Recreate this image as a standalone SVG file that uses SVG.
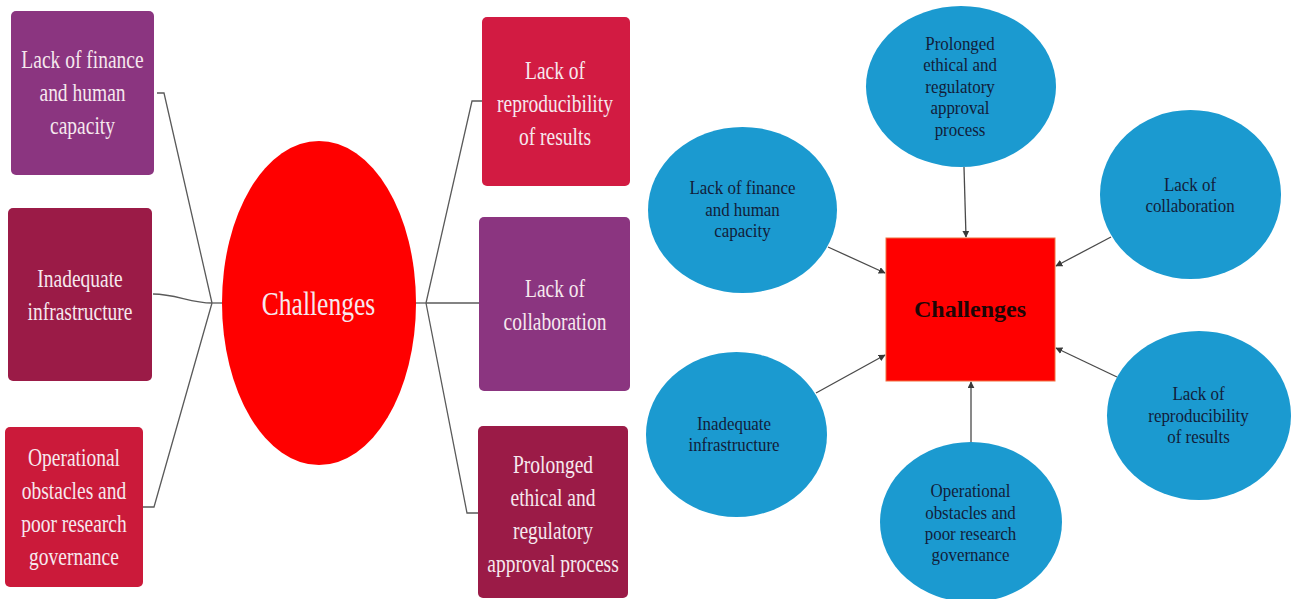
<svg xmlns="http://www.w3.org/2000/svg" width="1295" height="599" viewBox="0 0 1295 599">
<defs>
<style>
.bx{stroke:none}
.purple{fill:#8B3580}
.maroon{fill:#9B1B47}
.crimson{fill:#CB1A3A}
.lt{font-family:"Liberation Serif","Tinos","DejaVu Serif",serif;font-size:26px;fill:#F6E8EE;text-anchor:middle}
.ct{font-family:"Liberation Serif","Tinos","DejaVu Serif",serif;font-size:18px;fill:#121d3a;text-anchor:middle}
.circ{fill:#1B9AD0}
.ln{fill:none;stroke:#5a5a5a;stroke-width:1.3}
.ar{fill:none;stroke:#4a4a4a;stroke-width:1.3;marker-end:url(#ah)}
</style>
<marker id="ah" viewBox="0 0 10 10" refX="9" refY="5" markerWidth="7" markerHeight="7" orient="auto" markerUnits="userSpaceOnUse">
<path d="M0,0 L10,5 L0,10 z" fill="#3a3a3a"/>
</marker>
</defs>
<rect width="1295" height="599" fill="#ffffff"/>

<g id="connectors">
<path class="ln" d="M157,93 L164,93 L212,303"/>
<path class="ln" d="M153,294 C176,294 190,303 212,303"/>
<path class="ln" d="M143,507 L154,507 L212,303"/>
<path class="ln" d="M212,303 L224,303" stroke-width="2"/>
<path class="ln" d="M415,303 L426,303" stroke-width="2"/>
<path class="ln" d="M426,303 L472,101 L482,101"/>
<path class="ln" d="M426,303 L479,303"/>
<path class="ln" d="M426,303 L467,513 L478,513"/>
<path class="ar" d="M828,247 L885,273"/>
<path class="ar" d="M964,167 L966,237"/>
<path class="ar" d="M1111,237 L1056,266"/>
<path class="ar" d="M816,393 L885,355"/>
<path class="ar" d="M971,442 L971,382"/>
<path class="ar" d="M1117,377 L1056,348"/>
</g>

<g id="left-center">
<ellipse cx="319" cy="303" rx="97" ry="162" fill="#FF0000"/>
<text class="lt" transform="translate(318.5 0) scale(0.75 1)" style="font-size:34px"><tspan x="0" y="315">Challenges</tspan></text>
</g>

<g id="l-finance">
<rect class="bx purple" x="11" y="11" width="143" height="164" rx="5"/>
<text class="lt" transform="translate(82.5 0) scale(0.75 1)"><tspan x="0" y="68">Lack of finance</tspan><tspan x="0" y="101">and human</tspan><tspan x="0" y="134">capacity</tspan></text>
</g>
<g id="l-infra">
<rect class="bx maroon" x="8" y="208" width="144" height="173" rx="5"/>
<text class="lt" transform="translate(80 0) scale(0.75 1)"><tspan x="0" y="287">Inadequate</tspan><tspan x="0" y="320">infrastructure</tspan></text>
</g>
<g id="l-operational">
<rect class="bx crimson" x="5" y="427" width="138" height="160" rx="5"/>
<text class="lt" transform="translate(74 0) scale(0.75 1)"><tspan x="0" y="466">Operational</tspan><tspan x="0" y="499">obstacles and</tspan><tspan x="0" y="532">poor research</tspan><tspan x="0" y="565">governance</tspan></text>
</g>
<g id="l-repro">
<rect class="bx" fill="#D21B42" x="482" y="17" width="148" height="169" rx="5"/>
<text class="lt" transform="translate(555 0) scale(0.75 1)"><tspan x="0" y="79">Lack of</tspan><tspan x="0" y="112">reproducibility</tspan><tspan x="0" y="145">of results</tspan></text>
</g>
<g id="l-collab">
<rect class="bx purple" x="479" y="217" width="151" height="174" rx="5"/>
<text class="lt" transform="translate(555 0) scale(0.75 1)"><tspan x="0" y="297">Lack of</tspan><tspan x="0" y="330">collaboration</tspan></text>
</g>
<g id="l-prolonged">
<rect class="bx maroon" x="478" y="426" width="150" height="172" rx="5"/>
<text class="lt" transform="translate(553 0) scale(0.75 1)"><tspan x="0" y="473">Prolonged</tspan><tspan x="0" y="506">ethical and</tspan><tspan x="0" y="539">regulatory</tspan><tspan x="0" y="572">approval process</tspan></text>
</g>

<g id="r-center">
<rect x="886" y="238" width="169" height="143" fill="#FF0000" stroke="#F07040" stroke-width="1"/>
<text class="ct" x="970" y="317" style="font-size:24px;font-weight:bold;fill:#1e0606">Challenges</text>
</g>
<g id="r-finance">
<ellipse class="circ" cx="742.5" cy="210" rx="94.5" ry="83"/>
<text class="ct" transform="translate(742.5 0) scale(0.94 1)"><tspan x="0" y="194">Lack of finance</tspan><tspan x="0" y="216">and human</tspan><tspan x="0" y="237">capacity</tspan></text>
</g>
<g id="r-prolonged">
<ellipse class="circ" cx="961" cy="86.5" rx="95" ry="80.5"/>
<text class="ct" transform="translate(960 0) scale(0.94 1)"><tspan x="0" y="50">Prolonged</tspan><tspan x="0" y="71.5">ethical and</tspan><tspan x="0" y="93">regulatory</tspan><tspan x="0" y="114.5">approval</tspan><tspan x="0" y="136">process</tspan></text>
</g>
<g id="r-collab">
<ellipse class="circ" cx="1190.5" cy="194.5" rx="90.5" ry="84.5"/>
<text class="ct" transform="translate(1190 0) scale(0.94 1)"><tspan x="0" y="191">Lack of</tspan><tspan x="0" y="212">collaboration</tspan></text>
</g>
<g id="r-infra">
<ellipse class="circ" cx="736.5" cy="434.5" rx="90.5" ry="82.5"/>
<text class="ct" transform="translate(734 0) scale(0.94 1)"><tspan x="0" y="430">Inadequate</tspan><tspan x="0" y="451">infrastructure</tspan></text>
</g>
<g id="r-operational">
<ellipse class="circ" cx="971" cy="522" rx="91" ry="80"/>
<text class="ct" transform="translate(970.5 0) scale(0.94 1)"><tspan x="0" y="497">Operational</tspan><tspan x="0" y="519">obstacles and</tspan><tspan x="0" y="540">poor research</tspan><tspan x="0" y="561">governance</tspan></text>
</g>
<g id="r-repro">
<ellipse class="circ" cx="1199" cy="415.5" rx="92" ry="84.5"/>
<text class="ct" transform="translate(1198.5 0) scale(0.94 1)"><tspan x="0" y="400">Lack of</tspan><tspan x="0" y="422">reproducibility</tspan><tspan x="0" y="443">of results</tspan></text>
</g>
</svg>
